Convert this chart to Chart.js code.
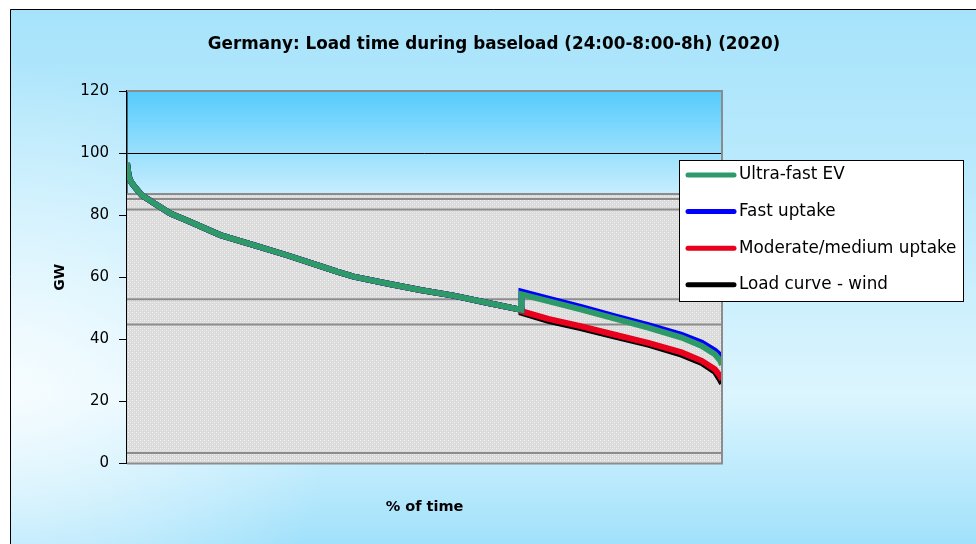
<!DOCTYPE html>
<html>
<head>
<meta charset="utf-8">
<script src="https://cdn.jsdelivr.net/npm/chart.js@4.4.1/dist/chart.umd.min.js"></script>
<style>
  body { margin: 0; background: #fff; }
  canvas { display: block; }
</style>
</head>
<body>
<canvas id="myChart" width="976" height="544"></canvas>
<script>
'use strict'

// load duration curve, shared part (% of time, GW)
const baseTime = [0, 0.3, 0.6, 1.1, 2.5, 4.5, 7.3, 10, 15.7, 21.3, 26.9, 32.5, 35.3, 38.1, 43.7, 49.3, 54.9, 60.5, 66.3]
const baseLoad = [96.8, 92.5, 91, 89.6, 86.4, 83.9, 80.5, 78.4, 73.6, 70.4, 67.1, 63.6, 61.8, 60.2, 58.0, 55.9, 54.1, 51.8, 49.5]

// after the charging step
const tailTime = [66.3, 70.8, 76.4, 82, 87.6, 93.2, 96.6, 98.8, 99.7, 100]
const ultraFast = [54.5, 52.3, 49.6, 46.7, 43.8, 40.6, 37.9, 35.2, 33.2, 31.8]
const fastUptake = [55.4, 53.1, 50.4, 47.4, 44.6, 41.5, 38.9, 36.4, 34.8, 34]
const moderate = [49.1, 46.6, 44.2, 41.5, 38.9, 35.8, 33.1, 30.4, 28.2, 27]
const loadWind = [48.6, 46.0, 43.6, 40.9, 38.3, 35.1, 32.4, 29.6, 26.9, 25.8]

// grey capacity bands (GW)
const bandLevels = [3.4, 44.8, 52.9, 81.8, 85.2, 86.8]

const seriesNames = ['Ultra-fast EV', 'Fast uptake', 'Moderate/medium uptake', 'Load curve - wind']
const seriesColors = ['#2e9a68', '#0000ff', '#e8001c', '#000000']
const yTicks = [0, 20, 40, 60, 80, 100, 120]

const toPoints = (xs, ys) => xs.map((x, i) => ({x: x, y: ys[i]}))
const withBase = tail => toPoints(baseTime, baseLoad).concat(toPoints(tailTime, tail))

// dotted grey fill
const patCanvas = document.createElement('canvas')
patCanvas.width = 4
patCanvas.height = 4
const pctx = patCanvas.getContext('2d')
pctx.fillStyle = '#dadada'
pctx.fillRect(0, 0, 4, 4)
pctx.fillStyle = '#f2f2f2'
pctx.fillRect(0, 0, 1, 1)
pctx.fillRect(2, 2, 1, 1)
pctx.fillStyle = '#e6e6e6'
pctx.fillRect(2, 0, 1, 1)
pctx.fillRect(0, 2, 1, 1)
const greyPattern = pctx.createPattern(patCanvas, 'repeat')

const lineSet = (label, data, color, order) => ({
    label: label,
    data: data,
    borderColor: color,
    backgroundColor: color,
    borderWidth: 6,
    pointRadius: 0,
    fill: false,
    tension: 0,
    order: order
})

const topBand = Math.max(...bandLevels)
const bandSets = bandLevels.map(v => ({
    label: 'band',
    data: [{x: 0, y: v}, {x: 100, y: v}],
    borderColor: '#8c8c8c',
    borderWidth: 2,
    pointRadius: 0,
    fill: v === topBand ? 'origin' : false,
    backgroundColor: greyPattern,
    order: 20
}))

const lineSets = [
    lineSet(seriesNames[0], withBase(ultraFast), seriesColors[0], 1),
    lineSet(seriesNames[1], withBase(fastUptake), seriesColors[1], 2),
    lineSet(seriesNames[2], withBase(moderate), seriesColors[2], 3),
    lineSet(seriesNames[3], withBase(loadWind), seriesColors[3], 4)
]

const decor = {
    id: 'decor',
    beforeDraw(chart) {
        const ctx = chart.ctx
        const {left, right, top, bottom} = chart.chartArea
        ctx.save()
        ctx.fillStyle = '#ffffff'
        ctx.fillRect(0, 0, chart.width, chart.height)
        const g = ctx.createLinearGradient(0, 9, 0, chart.height)
        g.addColorStop(0, '#a6e3fb')
        g.addColorStop(0.45, '#c4edfd')
        g.addColorStop(0.72, '#dcf5fe')
        g.addColorStop(1, '#a1e1fb')
        ctx.fillStyle = g
        ctx.fillRect(10, 9, chart.width, chart.height)
        const r = ctx.createRadialGradient(10, 390, 0, 10, 390, 330)
        r.addColorStop(0, 'rgba(255,255,255,0.75)')
        r.addColorStop(1, 'rgba(255,255,255,0)')
        ctx.fillStyle = r
        ctx.fillRect(10, 9, chart.width, chart.height)
        ctx.strokeStyle = '#000'
        ctx.lineWidth = 1
        ctx.beginPath()
        ctx.moveTo(10.5, chart.height)
        ctx.lineTo(10.5, 9.5)
        ctx.lineTo(chart.width, 9.5)
        ctx.stroke()
        // plot area background
        const pg = ctx.createLinearGradient(0, top, 0, bottom)
        pg.addColorStop(0, '#55cbfc')
        pg.addColorStop(0.28, '#c9eefe')
        pg.addColorStop(1, '#ffffff')
        ctx.fillStyle = pg
        ctx.fillRect(left, top, right - left, bottom - top)
        // title
        ctx.fillStyle = '#000'
        ctx.font = 'bold 16.8px "DejaVu Sans"'
        ctx.textAlign = 'center'
        ctx.textBaseline = 'middle'
        ctx.fillText('Germany: Load time during baseload (24:00-8:00-8h) (2020)', 494, 45)
        ctx.restore()
    },
    afterDatasetsDraw(chart) {
        const ctx = chart.ctx
        const {left, right, top, bottom} = chart.chartArea
        ctx.save()
        ctx.strokeStyle = '#8c8c8c'
        ctx.lineWidth = 2
        ctx.beginPath()
        ctx.moveTo(left, top)
        ctx.lineTo(right, top)
        ctx.lineTo(right, bottom)
        ctx.lineTo(left, bottom)
        ctx.stroke()
        ctx.restore()
    },
    afterDraw(chart) {
        const ctx = chart.ctx
        ctx.save()
        ctx.fillStyle = '#fff'
        ctx.fillRect(679.5, 160.5, 284, 141)
        ctx.strokeStyle = '#000'
        ctx.lineWidth = 1
        ctx.strokeRect(679.5, 160.5, 284, 141)
        ctx.font = '16.8px "DejaVu Sans"'
        ctx.textAlign = 'left'
        ctx.textBaseline = 'middle'
        seriesNames.forEach((name, i) => {
            const y = 175 + i * 36.6
            ctx.strokeStyle = seriesColors[i]
            ctx.lineWidth = 5
            ctx.lineCap = 'round'
            ctx.beginPath()
            ctx.moveTo(688, y)
            ctx.lineTo(734, y)
            ctx.stroke()
            ctx.fillStyle = '#000'
            ctx.fillText(name, 739, y)
        })
        ctx.restore()
    }
}

const chart = new Chart(document.getElementById('myChart'), {
    type: 'line',
    data: {
        datasets: lineSets.concat(bandSets)
    },
    options: {
        responsive: false,
        animation: false,
        devicePixelRatio: 1,
        layout: {
            padding: {left: 0, right: 254, top: 91, bottom: 28}
        },
        plugins: {
            legend: {display: false},
            tooltip: {enabled: false},
            filler: {drawTime: 'beforeDatasetsDraw'}
        },
        scales: {
            x: {
                type: 'linear',
                min: 0,
                max: 100,
                grid: {display: false},
                border: {display: false},
                ticks: {display: false},
                title: {
                    display: true,
                    text: '% of time',
                    color: '#000',
                    font: {family: 'DejaVu Sans', size: 14.5, weight: 'bold'},
                    padding: {top: 27, bottom: 0}
                }
            },
            y: {
                min: 0,
                max: 120,
                afterBuildTicks: scale => {
                    scale.ticks = yTicks.map(v => ({value: v}))
                },
                afterFit: scale => {
                    scale.width = 127
                },
                grid: {
                    color: c => c.tick && c.tick.value === 100 ? '#000' : 'rgba(0,0,0,0)',
                    lineWidth: 1,
                    tickColor: '#000',
                    tickLength: 8
                },
                border: {display: true, color: '#000', width: 1.5},
                ticks: {
                    color: '#000',
                    padding: 10,
                    font: {family: 'DejaVu Sans', size: 15}
                },
                title: {
                    display: true,
                    text: 'GW',
                    color: '#000',
                    font: {family: 'DejaVu Sans', size: 14, weight: 'bold'},
                    padding: {top: 52, bottom: 0}
                }
            }
        }
    },
    plugins: [decor]
})
</script>
</body>
</html>
